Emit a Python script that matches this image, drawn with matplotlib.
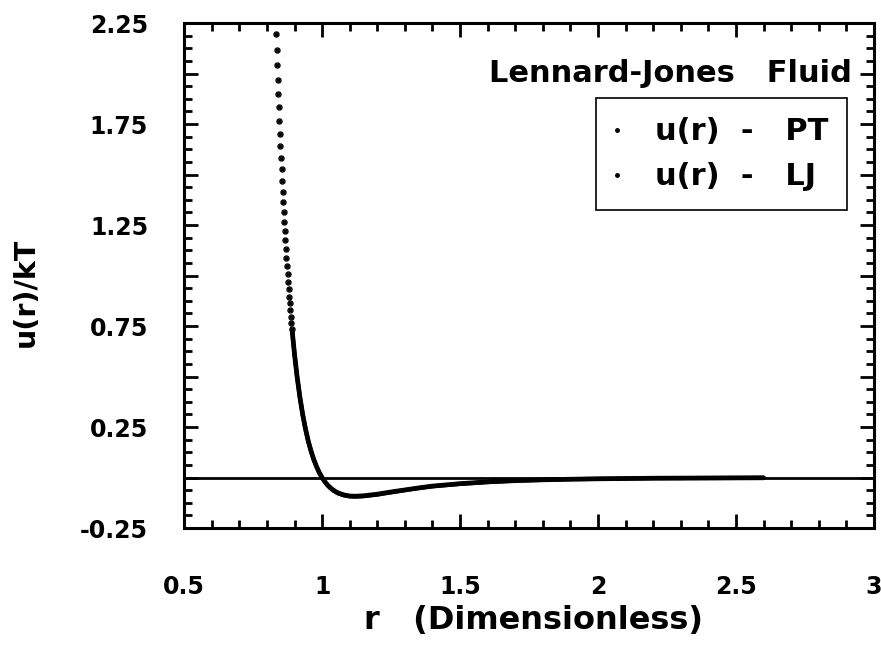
import numpy as np
import matplotlib.pyplot as plt
from matplotlib.ticker import MultipleLocator
from matplotlib.lines import Line2D

# reduced distance r and u(r)/kT
# first 30 points are the separate dots near the top, the rest is the dense part
r = [0.833, 0.835, 0.837, 0.839, 0.841, 0.843, 0.845, 0.847, 0.849, 0.851,
     0.853, 0.855, 0.857, 0.859, 0.861, 0.863, 0.865, 0.867, 0.869, 0.871,
     0.873, 0.875, 0.877, 0.879, 0.881, 0.883, 0.885, 0.887, 0.889, 0.891,
     0.90, 0.91, 0.92, 0.93, 0.94, 0.95, 0.96, 0.97, 0.98, 0.99,
     1.00, 1.01, 1.02, 1.03, 1.04, 1.05, 1.06, 1.08, 1.10, 1.12,
     1.15, 1.20, 1.25, 1.30, 1.35, 1.40, 1.50, 1.60, 1.70, 1.80,
     1.90, 2.00, 2.20, 2.40, 2.60]
u_lj = [2.195, 2.118, 2.043, 1.970, 1.900, 1.832, 1.766, 1.703, 1.641, 1.582,
        1.525, 1.469, 1.416, 1.364, 1.314, 1.266, 1.219, 1.174, 1.130, 1.088,
        1.047, 1.007, 0.969, 0.932, 0.896, 0.862, 0.828, 0.796, 0.765, 0.735,
        0.611, 0.493, 0.394, 0.310, 0.240, 0.180, 0.131, 0.089, 0.054, 0.024,
        0.000, -0.020, -0.037, -0.050, -0.061, -0.070, -0.077, -0.086, -0.091, -0.092,
        -0.090, -0.082, -0.071, -0.061, -0.051, -0.042, -0.030, -0.021, -0.015, -0.011,
        -0.008, -0.006, -0.003, -0.002, -0.001]
u_pt = [2.195, 2.118, 2.043, 1.970, 1.900, 1.832, 1.766, 1.703, 1.641, 1.582,
        1.525, 1.469, 1.416, 1.364, 1.314, 1.266, 1.219, 1.174, 1.130, 1.088,
        1.047, 1.007, 0.969, 0.932, 0.896, 0.862, 0.828, 0.796, 0.765, 0.735,
        0.611, 0.493, 0.394, 0.310, 0.240, 0.180, 0.131, 0.089, 0.054, 0.024,
        0.000, -0.021, -0.038, -0.052, -0.063, -0.072, -0.079, -0.088, -0.093, -0.094,
        -0.092, -0.084, -0.073, -0.062, -0.052, -0.043, -0.031, -0.022, -0.015, -0.011,
        -0.008, -0.006, -0.003, -0.002, -0.001]
n_dots = 30

x_ticks = [0.5, 1, 1.5, 2, 2.5, 3]
x_tick_labels = ['0.5', '1', '1.5', '2', '2.5', '3']
y_ticks = [-0.25, 0, 0.25, 0.5, 0.75, 1.0, 1.25, 1.5, 1.75, 2.0, 2.25]
y_tick_labels = ['-0.25', '', '0.25', '', '0.75', '', '1.25', '', '1.75', '', '2.25']

plt.rcParams['font.family'] = 'DejaVu Sans'
plt.rcParams['font.weight'] = 'bold'

fig = plt.figure(figsize=(8.81, 6.48), dpi=100)
ax = fig.add_axes([0.209, 0.185, 0.783, 0.7795])

ax.axhline(0, color='black', lw=2.0, zorder=1)

# dense part looks like a solid thick line
ax.plot(r[n_dots-1:], u_lj[n_dots-1:], '-', color='black', lw=3.4,
        solid_capstyle='round', zorder=2)
ax.plot(r[n_dots-1:], u_pt[n_dots-1:], '-', color='black', lw=3.0,
        solid_capstyle='round', zorder=2)
# separate dots at the top
ax.plot(r[:n_dots], u_pt[:n_dots], 'o', ms=3.6, mfc='white', mec='black', mew=1.0, zorder=3)
ax.plot(r[:n_dots], u_lj[:n_dots], 'o', ms=1.8, color='black', zorder=4)

ax.set_xlim(0.5, 3)
ax.set_ylim(-0.25, 2.25)
ax.set_xticks(x_ticks)
ax.set_xticklabels(x_tick_labels)
ax.set_yticks(y_ticks)
ax.set_yticklabels(y_tick_labels)
ax.xaxis.set_minor_locator(MultipleLocator(0.1))
ax.yaxis.set_minor_locator(MultipleLocator(0.0625))

ax.tick_params(which='both', direction='in', top=True, right=True, width=2, colors='black')
ax.tick_params(which='major', length=10)
ax.tick_params(which='minor', length=6)
ax.tick_params(axis='x', which='major', pad=34, labelsize=17)
ax.tick_params(axis='y', which='major', pad=26, labelsize=17)
for s in ax.spines.values():
    s.set_linewidth(2.2)

ax.set_xlabel('r   (Dimensionless)', fontsize=23, fontweight='bold')
ax.xaxis.set_label_coords(0.507, -0.152)
ax.set_ylabel('u(r)/kT', fontsize=20.5, fontweight='bold')
ax.yaxis.set_label_coords(-0.209, 0.467)

ax.text(0.968, 0.901, 'Lennard-Jones   Fluid', transform=ax.transAxes,
        ha='right', va='center', fontsize=22, fontweight='bold')

handles = [Line2D([], [], ls='none', marker='o', ms=2.5, color='black'),
           Line2D([], [], ls='none', marker='o', ms=2.5, color='black')]
leg = ax.legend(handles, ['u(r)  -   PT', 'u(r)  -   LJ'], loc='upper right',
                bbox_to_anchor=(0.961, 0.851), borderaxespad=0,
                prop={'size': 22, 'weight': 'bold'}, frameon=True, fancybox=False,
                framealpha=1, edgecolor='black', borderpad=0.62, labelspacing=0.53,
                handlelength=0.1, handletextpad=1.2)
leg.get_frame().set_linewidth(1.2)

plt.savefig('out.png', dpi=100)
